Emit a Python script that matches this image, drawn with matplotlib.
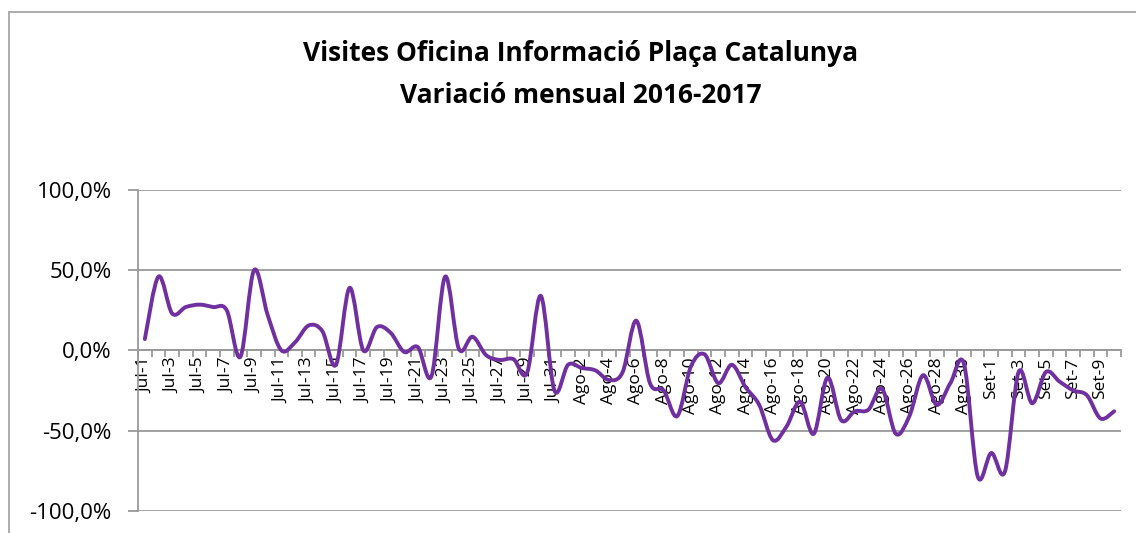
import matplotlib
matplotlib.use("Agg")
import matplotlib.pyplot as plt
import numpy as np
from matplotlib.path import Path
from matplotlib.patches import PathPatch, Rectangle
from matplotlib.ticker import FuncFormatter, MultipleLocator

plt.rcParams["font.family"] = ["Open Sans", "DejaVu Sans"]

# dies (categories)
dies = ([f"Jul-{d}" for d in range(1, 32)] +
        [f"Ago-{d}" for d in range(1, 32)] +
        [f"Set-{d}" for d in range(1, 11)])

# variació mensual (%)
variacio = [
    7, 46, 23, 27, 28.5, 27, 25, -4, 50, 22,          # Jul-1..10
    0, 5, 15.5, 12, -9, 39, 0, 14.5, 11, -1,          # Jul-11..20
    2, -16, 46, 1, 8.5, -3, -6, -5.5, -14, 34, -25,   # Jul-21..31
    -9, -11, -12.5, -18.5, -13.5, 18.5, -20.5, -25, -41, -10,   # Ago-1..10
    -2.5, -20.5, -9, -23, -34, -56, -47.5, -32, -52, -17,       # Ago-11..20
    -43.5, -38, -37, -24, -52, -41, -15.5, -34, -20.5, -8.5, -78.5,  # Ago-21..31
    -64, -75.5, -13.5, -33, -13.5, -19.5, -25, -28, -42.5, -38,      # Set-1..10
]

titol = "Visites Oficina Informació Plaça Catalunya\nVariació mensual 2016-2017"


def smooth_path(xs, ys):
    # corba suavitzada tipus Excel (Catmull-Rom -> Bezier)
    pts = np.column_stack([xs, ys]).astype(float)
    verts = [pts[0]]
    codes = [Path.MOVETO]
    n = len(pts)
    for i in range(n - 1):
        p0 = pts[i - 1] if i > 0 else pts[i]
        p1 = pts[i]
        p2 = pts[i + 1]
        p3 = pts[i + 2] if i + 2 < n else pts[i + 1]
        c1 = p1 + (p2 - p0) / 6.0
        c2 = p2 - (p3 - p1) / 6.0
        verts += [c1, c2, p2]
        codes += [Path.CURVE4] * 3
    return Path(verts, codes)


fig = plt.figure(figsize=(11.36, 5.33), dpi=100)
ax = fig.add_axes([138 / 1136, 1 - 510.7 / 533, (1121 - 138) / 1136, (510.7 - 190) / 533])

gris = "#9a9a9a"
x = np.arange(len(dies))
ax.add_patch(PathPatch(smooth_path(x, variacio), fill=False,
                       edgecolor="#7030A0", linewidth=2.8, capstyle="round",
                       joinstyle="round", zorder=3))

ax.set_xlim(-0.5, len(dies) - 0.5)
ax.set_ylim(-100, 100)

# graella horitzontal
ax.yaxis.set_major_locator(MultipleLocator(50))
ax.grid(axis="y", color=gris, linewidth=1.3)
ax.set_axisbelow(True)
ax.yaxis.set_major_formatter(FuncFormatter(lambda v, p: f"{v:.1f}%".replace(".", ",")))
ax.tick_params(axis="y", length=7, width=1.3, color=gris, labelsize=16, pad=12)

# eix x a 0
for s in ["top", "right"]:
    ax.spines[s].set_visible(False)
ax.spines["bottom"].set_position(("data", 0))
ax.spines["bottom"].set_color(gris)
ax.spines["bottom"].set_linewidth(1.3)
ax.spines["left"].set_color(gris)
ax.spines["left"].set_linewidth(1.3)

ax.set_xticks(x[::2])
ax.set_xticklabels(dies[::2], rotation=90, fontsize=12.5)
ax.set_xticks(np.arange(-0.5, len(dies)), minor=True)
ax.tick_params(axis="x", which="major", length=0, pad=5)
ax.tick_params(axis="x", which="minor", length=5, width=1.3, color=gris)

fig.text(0.511, 0.86, titol, ha="center", va="center", fontsize=19,
         fontweight="bold", linespacing=1.72)

# marc del gràfic
fig.patches.append(Rectangle((9 / 1136, -0.1), 1.2, 1 - 12 / 533 + 0.1,
                             transform=fig.transFigure, fill=False,
                             edgecolor="#a6a6a6", linewidth=1.3))

fig.savefig("out.png", dpi=100)
